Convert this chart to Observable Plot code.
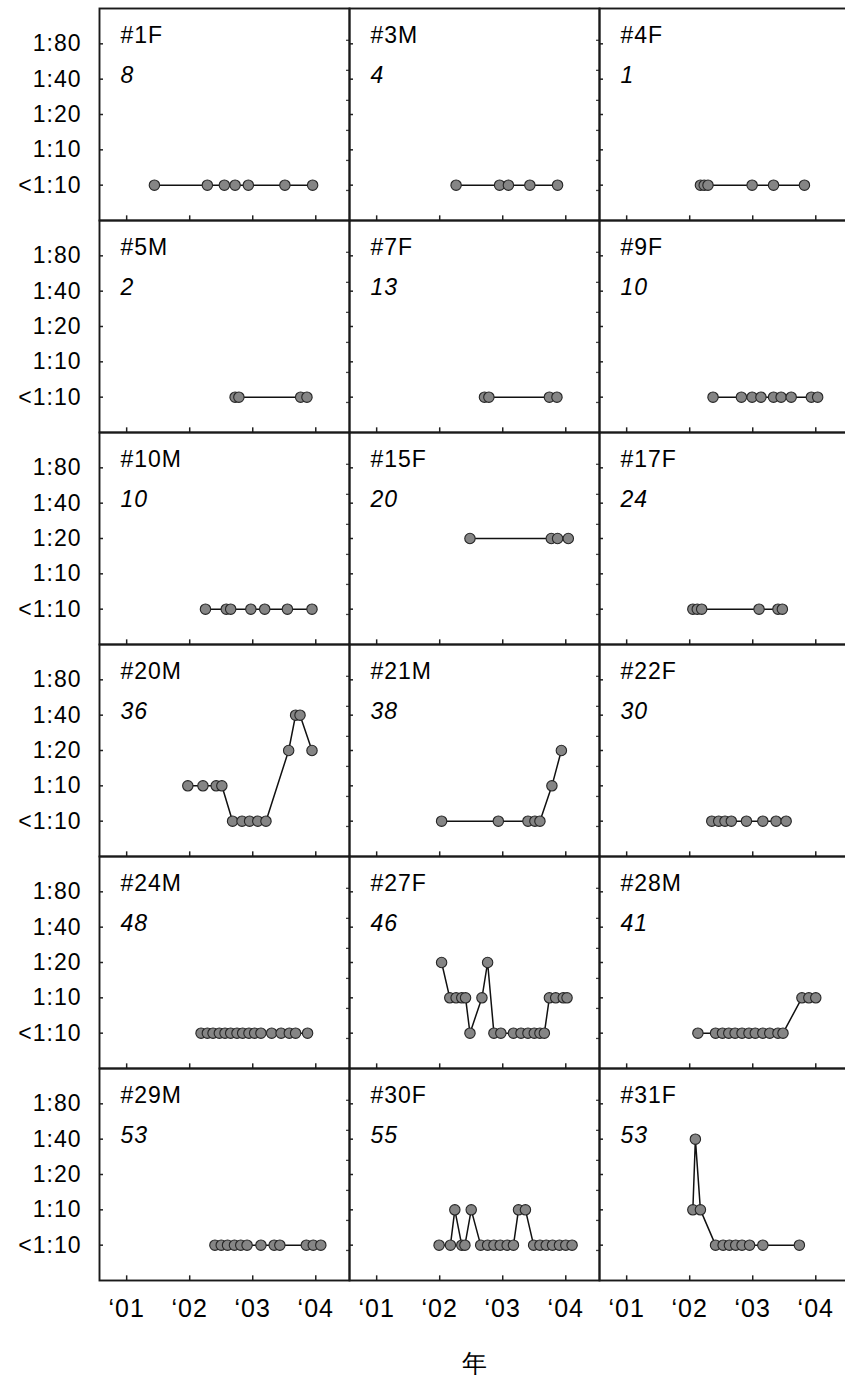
<!DOCTYPE html>
<html><head><meta charset="utf-8">
<script src="https://cdn.jsdelivr.net/npm/d3@7"></script>
<script src="https://cdn.jsdelivr.net/npm/@observablehq/plot@0.6"></script>
<style>
html,body{margin:0;padding:0;background:#fff;overflow:hidden;}
#chart svg{display:block;overflow:hidden;}
</style></head><body><div id="chart"></div>
<script>
// ---- scales / labels ----
const levels = ["<1:10", "1:10", "1:20", "1:40", "1:80"];
const levelTicks = [0, 1, 2, 3, 4];
const yearTicks = [2001, 2002, 2003, 2004];
const yearLabels = ["‘01", "‘02", "‘03", "‘04"];
const rightTicks = [-0.15, 0.7, 1.55, 2.4, 3.25, 4.1];
const panelNames = ["#1F","#3M","#4F","#5M","#7F","#9F","#10M","#15F","#17F","#20M","#21M","#22F","#24M","#27F","#28M","#29M","#30F","#31F"];
const panelNumbers = ["8","4","1","2","13","10","10","20","24","36","38","30","48","46","41","53","55","53"];

// ---- series: sampling time (year) and titre level ----
const L = "<1:10", A = "1:10", B = "1:20", C = "1:40";
const t1F = [2001.44, 2002.28, 2002.55, 2002.72, 2002.93, 2003.51, 2003.95];
const v1F = [L, L, L, L, L, L, L];
const t3M = [2002.26, 2002.95, 2003.09, 2003.43, 2003.87];
const v3M = [L, L, L, L, L];
const t4F = [2002.17, 2002.23, 2002.29, 2002.99, 2003.33, 2003.82];
const v4F = [L, L, L, L, L, L];
const t5M = [2002.72, 2002.78, 2003.76, 2003.86];
const v5M = [L, L, L, L];
const t7F = [2002.71, 2002.78, 2003.74, 2003.86];
const v7F = [L, L, L, L];
const t9F = [2002.37, 2002.82, 2002.99, 2003.13, 2003.33, 2003.45, 2003.61, 2003.93, 2004.03];
const v9F = [L, L, L, L, L, L, L, L, L];
const t10M = [2002.25, 2002.58, 2002.65, 2002.97, 2003.19, 2003.55, 2003.94];
const v10M = [L, L, L, L, L, L, L];
const t15F = [2002.48, 2003.77, 2003.87, 2004.04];
const v15F = [B, B, B, B];
const t17F = [2002.05, 2002.12, 2002.19, 2003.10, 2003.40, 2003.47];
const v17F = [L, L, L, L, L, L];
const t20M = [2001.97, 2002.21, 2002.42, 2002.51, 2002.68, 2002.83, 2002.95, 2003.08, 2003.21, 2003.57, 2003.68, 2003.75, 2003.94];
const v20M = [A, A, A, A, L, L, L, L, L, B, C, C, B];
const t21M = [2002.03, 2002.93, 2003.40, 2003.51, 2003.59, 2003.78, 2003.93];
const v21M = [L, L, L, L, L, A, B];
const t22F = [2002.35, 2002.46, 2002.56, 2002.66, 2002.90, 2003.16, 2003.37, 2003.53];
const v22F = [L, L, L, L, L, L, L, L];
const t24M = [2002.18, 2002.28, 2002.37, 2002.47, 2002.56, 2002.65, 2002.75, 2002.84, 2002.94, 2003.03, 2003.13, 2003.30, 2003.45, 2003.58, 2003.68, 2003.87];
const v24M = [L, L, L, L, L, L, L, L, L, L, L, L, L, L, L, L];
const t27F = [2002.03, 2002.16, 2002.26, 2002.35, 2002.41, 2002.48, 2002.67, 2002.76, 2002.86, 2002.97, 2003.17, 2003.29, 2003.40, 2003.50, 2003.59, 2003.66, 2003.74, 2003.84, 2003.96, 2004.02];
const v27F = [B, A, A, A, A, L, A, B, L, L, L, L, L, L, L, L, A, A, A, A];
const t28M = [2002.13, 2002.41, 2002.52, 2002.62, 2002.72, 2002.83, 2002.94, 2003.04, 2003.16, 2003.27, 2003.40, 2003.48, 2003.78, 2003.89, 2004.00];
const v28M = [L, L, L, L, L, L, L, L, L, L, L, L, A, A, A];
const t29M = [2002.40, 2002.50, 2002.60, 2002.71, 2002.81, 2002.91, 2003.13, 2003.34, 2003.43, 2003.85, 2003.96, 2004.08];
const v29M = [L, L, L, L, L, L, L, L, L, L, L, L];
const t30F = [2001.99, 2002.17, 2002.24, 2002.35, 2002.40, 2002.50, 2002.65, 2002.76, 2002.86, 2002.96, 2003.07, 2003.17, 2003.25, 2003.36, 2003.49, 2003.59, 2003.69, 2003.79, 2003.90, 2004.00, 2004.10];
const v30F = [L, L, A, L, L, A, L, L, L, L, L, L, A, A, L, L, L, L, L, L, L];
const t31F = [2002.05, 2002.09, 2002.17, 2002.41, 2002.53, 2002.63, 2002.73, 2002.83, 2002.95, 2003.16, 2003.74];
const v31F = [A, C, A, L, L, L, L, L, L, L, L];

const times = [t1F, t3M, t4F, t5M, t7F, t9F, t10M, t15F, t17F, t20M, t21M, t22F, t24M, t27F, t28M, t29M, t30F, t31F];
const values = [v1F, v3M, v4F, v5M, v7F, v9F, v10M, v15F, v17F, v20M, v21M, v22F, v24M, v27F, v28M, v29M, v30F, v31F];

// ---- table for the library ----
const rows = [];
times.forEach((ts, i) => ts.forEach((t, j) => rows.push({
  panel: i, col: i % 3, row: Math.floor(i / 3), t, lv: levels.indexOf(values[i][j])
})));
const panels = panelNames.map((name, i) => ({name, num: panelNumbers[i], col: i % 3, row: Math.floor(i / 3)}));

const W = 845, H = 1380;
const mL = 99, mR = -4, mT = 7, mB = 99;
const panelW = (W - mL - mR) / 3, panelH = (H - mT - mB) / 6;

const chart = Plot.plot({
  width: W, height: H,
  marginLeft: mL, marginRight: mR, marginTop: mT, marginBottom: mB,
  style: {fontFamily: "'Liberation Sans', Arial, sans-serif", color: "#000", background: "#fff", fontSize: "23px", letterSpacing: "1px"},
  fx: {domain: [0, 1, 2], padding: 0, axis: null},
  fy: {domain: [0, 1, 2, 3, 4, 5], padding: 0, axis: null},
  x: {domain: [2000.569, 2004.535]},
  y: {domain: [-1, 5]},
  marks: [
    Plot.tickY(levelTicks, {y: d => d, insetRight: panelW - 4, stroke: "#222", strokeWidth: 1.5}),
    Plot.tickY(rightTicks, {y: d => d, insetLeft: panelW - 3, stroke: "#444", strokeWidth: 1.3}),
    Plot.tickX(yearTicks, {x: d => d, insetTop: panelH - 5, stroke: "#222", strokeWidth: 1.5}),
    Plot.frame({stroke: "#1a1a1a", strokeWidth: 1.9}),
    Plot.axisY({ticks: levelTicks, tickFormat: i => levels[i], tickSize: 0, tickPadding: 18, fontSize: 23, label: null}),
    Plot.axisX({ticks: yearTicks, tickFormat: d => yearLabels[yearTicks.indexOf(d)], tickSize: 0, tickPadding: 19, fontSize: 25,
      label: "年", labelAnchor: "center", labelArrow: "none", labelOffset: 91}),
    Plot.line(rows, {fx: "col", fy: "row", x: "t", y: "lv", z: "panel", stroke: "#111", strokeWidth: 1.5}),
    Plot.dot(rows, {fx: "col", fy: "row", x: "t", y: "lv", r: 5.2, fill: "#858585", stroke: "#262626", strokeWidth: 1.1}),
    Plot.text(panels, {fx: "col", fy: "row", text: "name", frameAnchor: "top-left", textAnchor: "start", lineAnchor: "top", dx: 21, dy: 18, fontSize: 23, fill: "#000"}),
    Plot.text(panels, {fx: "col", fy: "row", text: "num", frameAnchor: "top-left", textAnchor: "start", lineAnchor: "top", dx: 21, dy: 58, fontSize: 23, fontStyle: "italic", fill: "#000"})
  ]
});
document.getElementById("chart").append(chart);
</script></body></html>
